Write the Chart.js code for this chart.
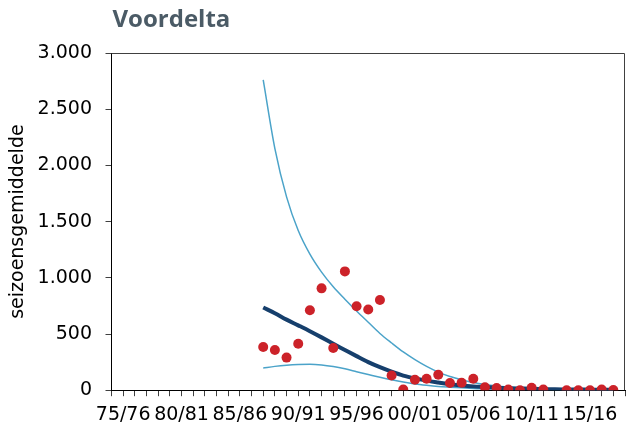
<!DOCTYPE html>
<html>
<head>
<meta charset="utf-8">
<script src="https://cdn.jsdelivr.net/npm/chart.js@4.4.1/dist/chart.umd.min.js"></script>
<style>
  html, body { margin: 0; padding: 0; background: #fff; }
  #wrap { width: 630px; height: 433px; }
</style>
</head>
<body>
<div id="wrap"><canvas id="chart" width="630" height="433"></canvas></div>
<script>
// seasons on the category axis (74/75 .. 18/19)
const seasons = [
  '74/75','75/76','76/77','77/78','78/79','79/80','80/81','81/82','82/83','83/84',
  '84/85','85/86','86/87','87/88','88/89','89/90','90/91','91/92','92/93','93/94',
  '94/95','95/96','96/97','97/98','98/99','99/00','00/01','01/02','02/03','03/04',
  '04/05','05/06','06/07','07/08','08/09','09/10','10/11','11/12','12/13','13/14',
  '14/15','15/16','16/17','17/18','18/19'
];
const yTicks = [0, 500, 1000, 1500, 2000, 2500, 3000];

// season averages (red dots)
const observed = [
  null, null, null, null, null, null, null, null, null, null,
  null, null, null, 385, 358, 290, 414, 712, 906, 376,
  1057, 747, 718, 803, 131, 7, 93, 102, 138, 64,
  66, 102, 26, 20, 6, 0, 22, 7, null, 0,
  0, 0, 7, 2, null
];
// fitted trend
const trend = [
  null, null, null, null, null, null, null, null, null, null,
  null, null, null, 736, 685, 628, 577, 525, 470, 413,
  358, 303, 250, 205, 165, 130, 105, 85, 68, 52,
  42, 34, 28, 22, 18, 15, 12, 10, 8, 7,
  6, 5, 4, 3, null
];
// confidence band
const upper = [
  null, null, null, null, null, null, null, null, null, null,
  null, null, null, 2760, 2150, 1720, 1420, 1210, 1050, 920,
  810, 705, 605, 505, 420, 340, 272, 212, 161, 122,
  93, 68, 50, 37, 28, 21, 16, 12, 9, 7,
  5, 4, 3, 2, null
];
const lower = [
  null, null, null, null, null, null, null, null, null, null,
  null, null, null, 198, 212, 222, 228, 230, 224, 210,
  190, 165, 140, 115, 92, 72, 56, 44, 34, 27,
  21, 16, 12, 10, 8, 6, 5, 4, 3, 3,
  2, 2, 1, 1, null
];

const FONT = 'DejaVu Sans';

function dotted(v) {
  return String(v).replace(/\B(?=(\d{3})+(?!\d))/g, '.');
}

// title at the left of the plot area + top/right frame of the plot
const framePlugin = {
  id: 'frame',
  afterDraw(chart) {
    const a = chart.chartArea;
    const ctx = chart.ctx;
    ctx.save();
    ctx.strokeStyle = '#404040';
    ctx.lineWidth = 1;
    ctx.beginPath();
    ctx.moveTo(a.left, a.top + 0.5);
    ctx.lineTo(a.right - 0.5, a.top + 0.5);
    ctx.lineTo(a.right - 0.5, a.bottom);
    ctx.stroke();
    ctx.fillStyle = '#4b5b66';
    ctx.font = 'bold 24px "Open Sans"';
    ctx.textBaseline = 'middle';
    ctx.fillText('Voordelta', a.left + 1, 20);
    ctx.restore();
  }
};

const lineStyle = (color, width) => ({
  borderColor: color,
  borderWidth: width,
  pointRadius: 0,
  fill: false,
  cubicInterpolationMode: 'monotone'
});

new Chart(document.getElementById('chart'), {
  type: 'line',
  data: {
    labels: seasons,
    datasets: [
      {
        label: 'seizoensgemiddelde',
        data: observed,
        showLine: false,
        pointRadius: 5,
        pointBackgroundColor: '#cc2229',
        pointBorderColor: '#cc2229',
        pointBorderWidth: 0,
        order: 0
      },
      Object.assign({ label: 'trend', data: trend, order: 1 }, lineStyle('#163f6c', 4)),
      Object.assign({ label: 'boven', data: upper, order: 2 }, lineStyle('#4ba3c9', 1.5)),
      Object.assign({ label: 'onder', data: lower, order: 2 }, lineStyle('#4ba3c9', 1.5))
    ]
  },
  options: {
    responsive: false,
    animation: false,
    layout: { padding: { top: 53, right: 1.5, bottom: 0, left: 0 } },
    plugins: {
      legend: { display: false },
      tooltip: { enabled: false },
      title: { display: false }
    },
    scales: {
      x: {
        type: 'category',
        offset: false,
        afterFit: axis => { axis.paddingLeft = 0; axis.paddingRight = 0; },
        grid: { drawOnChartArea: false, drawTicks: true, tickLength: 6, color: '#404040' },
        border: { color: '#000', width: 1 },
        ticks: {
          autoSkip: false,
          maxRotation: 0,
          padding: 7,
          color: '#000',
          font: { family: FONT, size: 19 },
          callback: function(v, i) {
            return (i - 1) % 5 === 0 ? seasons[i] : '';
          }
        }
      },
      y: {
        min: yTicks[0],
        max: yTicks[yTicks.length - 1],
        afterBuildTicks: axis => { axis.ticks = yTicks.map(v => ({ value: v })); },
        afterFit: axis => { axis.width = 111.5; },
        grid: { drawOnChartArea: false, drawTicks: true, tickLength: 6, color: '#404040' },
        border: { color: '#000', width: 1 },
        ticks: {
          padding: 13.5,
          color: '#000',
          font: { family: FONT, size: 19 },
          callback: v => dotted(v)
        },
        title: {
          display: true,
          text: 'seizoensgemiddelde',
          color: '#000',
          font: { family: FONT, size: 19 },
          padding: { top: 7, bottom: 0 }
        }
      }
    }
  },
  plugins: [framePlugin]
});
</script>
</body>
</html>
